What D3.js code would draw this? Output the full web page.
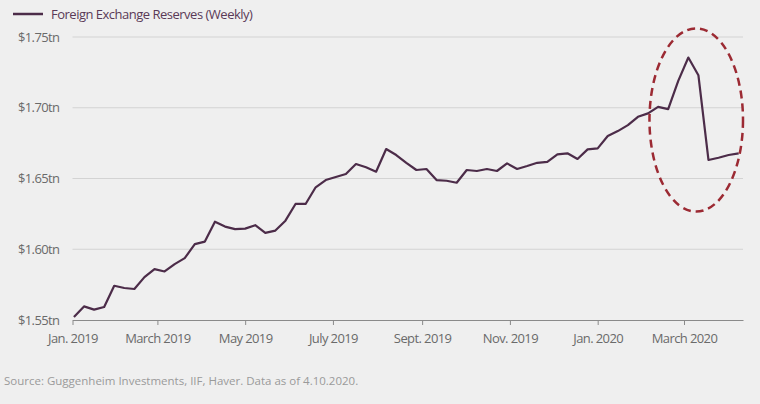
<!DOCTYPE html>
<html>
<head>
<meta charset="utf-8">
<script src="https://cdn.jsdelivr.net/npm/d3@7"></script>
<style>
    body { margin: 0; background: #efefef; }
    svg { display: block; font-family: "Open Sans", sans-serif; }
</style>
</head>
<body>
<div id="chart"></div>
<script>
// weekly observations, Wednesdays from Jan 2 2019 to Apr 8 2020
const firstWeek = new Date(2019, 0, 2);
const reserves = [
    1.5521, 1.5596, 1.5573, 1.5592, 1.5742, 1.5726, 1.5719, 1.5803, 1.5860, 1.5843,
    1.5895, 1.5937, 1.6036, 1.6054, 1.6195, 1.6160, 1.6142, 1.6146, 1.6170, 1.6116,
    1.6132, 1.6202, 1.6320, 1.6320, 1.6438, 1.6489, 1.6511, 1.6532, 1.6602, 1.6579,
    1.6548, 1.6708, 1.6666, 1.6611, 1.6560, 1.6567, 1.6489, 1.6484, 1.6470, 1.6560,
    1.6553, 1.6567, 1.6553, 1.6607, 1.6567, 1.6588, 1.6611, 1.6618, 1.6671, 1.6678,
    1.6638, 1.6706, 1.6713, 1.6800, 1.6835, 1.6877, 1.6936, 1.6960, 1.7006, 1.6990,
    1.7190, 1.7355, 1.7230, 1.6631, 1.6647, 1.6666, 1.6678
];
const weeks = d3.range(reserves.length).map(i => d3.timeWeek.offset(firstWeek, i));
const data = weeks.map((d, i) => ({ date: d, value: reserves[i] }));

const yTicks = [1.55, 1.60, 1.65, 1.70, 1.75];
const xTicks = [
    [new Date(2019, 0, 1), "Jan. 2019"],
    [new Date(2019, 2, 1), "March 2019"],
    [new Date(2019, 4, 1), "May 2019"],
    [new Date(2019, 6, 1), "July 2019"],
    [new Date(2019, 8, 1), "Sept. 2019"],
    [new Date(2019, 10, 1), "Nov. 2019"],
    [new Date(2020, 0, 1), "Jan. 2020"],
    [new Date(2020, 2, 1), "March 2020"]
];
// highlighted window: dates and value range the dashed ring covers
const highlight = { from: new Date(2020, 1, 6), to: new Date(2020, 3, 11), low: 1.6266, high: 1.7561 };

const legendLabel = "Foreign Exchange Reserves (Weekly)";
const sourceNote = "Source: Guggenheim Investments, IIF, Haver. Data as of 4.10.2020.";

const W = 760, H = 404;
const margin = { top: 37, right: 17, bottom: 84, left: 72.5 };
const width = W - margin.left - margin.right;
const height = H - margin.top - margin.bottom;

const lineColor = "#4c2c49";

const svg = d3.select("#chart")
    .append("svg")
    .attr("width", W)
    .attr("height", H);

svg.append("rect")
    .attr("width", W)
    .attr("height", H)
    .attr("fill", "#efefef");

const g = svg.append("g")
    .attr("transform", `translate(${margin.left},${margin.top})`);

const xScale = d3.scaleTime()
    .domain([new Date(2019, 0, 1), new Date(2020, 3, 11)])
    .range([0, width]);
const yScale = d3.scaleLinear()
    .domain([1.55, 1.75])
    .range([height, 0]);

// gridlines
g.selectAll(".grid")
    .data(yTicks.slice(1))
    .enter().append("line")
    .attr("class", "grid")
    .attr("x1", 0)
    .attr("x2", width)
    .attr("y1", d => yScale(d))
    .attr("y2", d => yScale(d))
    .attr("stroke", "#d3d3d3")
    .attr("stroke-width", 1);

g.selectAll(".yLabel")
    .data(yTicks)
    .enter().append("text")
    .attr("class", "yLabel")
    .attr("x", -13)
    .attr("y", d => yScale(d))
    .attr("dy", "0.35em")
    .attr("text-anchor", "end")
    .attr("font-size", "13px")
    .attr("letter-spacing", "-0.6px")
    .attr("fill", "#6a6a6a")
    .text(d => "$" + d.toFixed(2) + "tn");

// x axis
const xAxis = d3.axisBottom(xScale)
    .tickValues(xTicks.map(d => d[0]))
    .tickFormat((d, i) => xTicks[i][1])
    .tickSize(5)
    .tickSizeOuter(0);

const ax = g.append("g")
    .attr("class", "x-axis")
    .attr("transform", `translate(0,${height})`)
    .call(xAxis);
ax.select(".domain").attr("stroke", "#8a8a8a");
ax.selectAll(".tick line").attr("stroke", "#8a8a8a");
ax.selectAll(".tick text")
    .attr("y", 14)
    .attr("font-size", "13px")
    .attr("letter-spacing", "-0.6px")
    .attr("fill", "#6a6a6a")
    .attr("font-family", "\"Open Sans\", sans-serif");

// series
g.append("path")
    .datum(data)
    .attr("fill", "none")
    .attr("stroke", lineColor)
    .attr("stroke-width", 2.2)
    .attr("stroke-linejoin", "round")
    .attr("d", d3.line()
        .x(d => xScale(d.date))
        .y(d => yScale(d.value)));

// dashed ring round the March 2020 spike
const cx = (xScale(highlight.from) + xScale(highlight.to)) / 2;
const cy = (yScale(highlight.low) + yScale(highlight.high)) / 2;
g.append("ellipse")
    .attr("cx", cx)
    .attr("cy", cy)
    .attr("rx", (xScale(highlight.to) - xScale(highlight.from)) / 2)
    .attr("ry", (yScale(highlight.low) - yScale(highlight.high)) / 2)
    .attr("fill", "none")
    .attr("stroke", "#9c2a33")
    .attr("stroke-width", 2.5)
    .attr("stroke-dasharray", "8,5");

// legend
svg.append("line")
    .attr("x1", 13)
    .attr("x2", 43)
    .attr("y1", 14)
    .attr("y2", 14)
    .attr("stroke", lineColor)
    .attr("stroke-width", 2.5);
svg.append("text")
    .attr("x", 51)
    .attr("y", 14)
    .attr("dy", "0.35em")
    .attr("font-size", "13px")
    .attr("letter-spacing", "-0.5px")
    .attr("fill", "#5a3a57")
    .text(legendLabel);

svg.append("text")
    .attr("x", 4)
    .attr("y", 385)
    .attr("font-size", "11.5px")
    .attr("fill", "#9a9a9a")
    .text(sourceNote);
</script>
</body>
</html>
